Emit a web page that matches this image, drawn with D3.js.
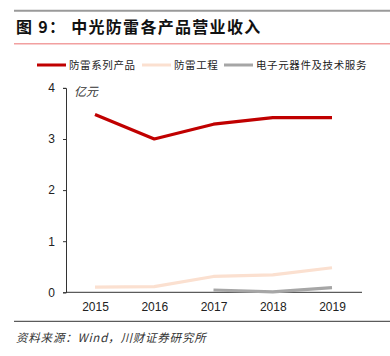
<!DOCTYPE html>
<html><head><meta charset="utf-8">
<script src="https://cdn.jsdelivr.net/npm/d3@7"></script>
<style>body{margin:0;background:#fff}svg{display:block}</style>
</head><body>
<script>
const years = ["2015","2016","2017","2018","2019"];
const seriesNames = ["防雷系列产品","防雷工程","电子元器件及技术服务"];
const seriesColors = ["#C00000","#FBE0D0","#A6A6A6"];
const lightning = [3.48,3.00,3.29,3.42,3.42];
const engineering = [0.10,0.11,0.31,0.34,0.48];
const electronics = [null,null,0.045,0.01,0.09];
const yTicks = [0,1,2,3,4];

const W=390,H=356;
const svg=d3.select("body").append("svg").attr("width",W).attr("height",H);
const cjk="'Noto Sans CJK SC','Noto Sans',sans-serif";

// header lines
svg.append("line").attr("x1",14).attr("x2",390).attr("y1",10.7).attr("y2",10.7).attr("stroke","#9a9a9a").attr("stroke-width",2);
svg.append("line").attr("x1",14).attr("x2",390).attr("y1",43.7).attr("y2",43.7).attr("stroke","#F2A0A0").attr("stroke-width",1.5);
svg.append("text").attr("x",16).attr("y",33).attr("font-family",cjk).attr("font-weight","bold")
  .attr("font-size",16).attr("fill","#111").attr("letter-spacing",1.3)
  .text("图 9：  中光防雷各产品营业收入");

// legend
const legX=[37,142,224];
seriesNames.forEach((n,i)=>{
  svg.append("line").attr("x1",legX[i]).attr("x2",legX[i]+29).attr("y1",65).attr("y2",65)
    .attr("stroke",seriesColors[i]).attr("stroke-width",3);
  svg.append("text").attr("x",legX[i]+32).attr("y",69).attr("font-family",cjk).attr("font-size",10.5)
    .attr("fill","#222").attr("letter-spacing",0.6).text(n);
});

const x=d3.scalePoint().domain(years).range([95,332]);
const y=d3.scaleLinear().domain([0,4]).range([292.3,87.9]);

// axes
const yAxis=svg.append("g").attr("transform","translate(66,0)")
  .call(d3.axisLeft(y).tickValues(yTicks).tickSize(3).tickPadding(8).tickFormat(d3.format("d")));
yAxis.select(".domain").attr("stroke","#333");
yAxis.selectAll(".tick line").attr("stroke","#333");
yAxis.selectAll("text").attr("font-family","'Liberation Sans',Arial,sans-serif").attr("font-size",12).attr("fill","#222");

const xAxis=svg.append("g").attr("transform","translate(0,292.3)")
  .call(d3.axisBottom(x).tickSize(0).tickPadding(10));
xAxis.select(".domain").attr("d","M66,0H362").attr("stroke","#333");
xAxis.selectAll("text").attr("font-family","'Liberation Sans',Arial,sans-serif").attr("font-size",12).attr("fill","#222");

svg.append("text").attr("x",74).attr("y",96).attr("font-family",cjk).attr("font-style","italic")
  .attr("font-size",12).attr("fill","#333").text("亿元");

const line=d3.line().defined(d=>d.v!=null).x(d=>x(d.k)).y(d=>y(d.v));
[lightning,engineering,electronics].forEach((arr,i)=>{
  const data=years.map((k,j)=>({k,v:arr[j]}));
  svg.append("path").datum(data).attr("d",line).attr("fill","none")
    .attr("stroke",seriesColors[i]).attr("stroke-width",3.2).attr("stroke-linejoin","round");
});

// footer
svg.append("line").attr("x1",14).attr("x2",390).attr("y1",321.3).attr("y2",321.3).attr("stroke","#333").attr("stroke-width",1);
svg.append("text").attr("x",16).attr("y",342).attr("font-family",cjk).attr("font-style","italic")
  .attr("font-size",11.5).attr("fill","#333").attr("letter-spacing",0.8)
  .text("资料来源：Wind，川财证券研究所");
</script>
</body></html>
